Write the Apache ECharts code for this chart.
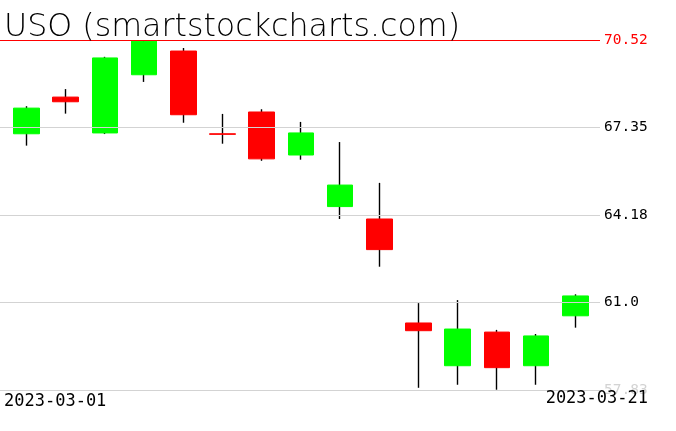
<!DOCTYPE html>
<html>
<head>
<meta charset="utf-8">
<script src="https://cdn.jsdelivr.net/npm/echarts@6/dist/echarts.min.js"></script>
<style>html,body{margin:0;padding:0;background:#fff;}#c{width:676px;height:431px;}</style>
</head>
<body>
<div id="c"></div>
<script>
const titleText = 'USO (smartstockcharts.com)';
const dates = ['2023-03-01','2023-03-02','2023-03-03','2023-03-06','2023-03-07','2023-03-08','2023-03-09','2023-03-10','2023-03-13','2023-03-14','2023-03-15','2023-03-16','2023-03-17','2023-03-20','2023-03-21'];
const opens  = [67.12, 68.45, 67.15, 69.26, 70.12, 67.12, 67.91, 66.35, 64.48, 64.03, 60.26, 58.71, 59.93, 58.71, 60.52];
const closes = [68.05, 68.28, 69.87, 70.48, 67.81, 67.10, 66.21, 67.15, 65.26, 62.92, 59.98, 60.04, 58.64, 59.79, 61.24];
const lows   = [66.69, 67.85, 67.11, 69.00, 67.52, 66.76, 66.14, 66.18, 64.03, 62.30, 57.91, 58.02, 57.84, 58.02, 60.09];
const highs  = [68.12, 68.74, 69.91, 70.52, 70.23, 67.84, 68.01, 67.55, 66.82, 65.34, 60.98, 61.09, 60.01, 59.86, 61.30];
const tickValues = [57.83, 61.0, 64.18, 67.35, 70.52];
const tickLabels = ['57.83', '61.0', '64.18', '67.35', '70.52'];
const tickColors = ['#d3d3d3', '#000000', '#000000', '#000000', '#ff0000'];
const lineColors = ['#d3d3d3', '#d3d3d3', '#d3d3d3', '#d3d3d3', '#ff0000'];

const yMin = tickValues[0], yMax = tickValues[tickValues.length - 1];
const MONO = 'DejaVu Sans Mono';

const wickData = dates.map((d, i) => [opens[i], closes[i], lows[i], highs[i]]);
const bodyData = dates.map((d, i) => [opens[i], closes[i], Math.min(opens[i], closes[i]), Math.max(opens[i], closes[i])]);

const chart = echarts.init(document.getElementById('c'), null, {renderer: 'canvas'});
chart.setOption({
  animation: false,
  backgroundColor: '#ffffff',
  grid: [
    {left: 0, top: 40, width: 600, height: 350},
    {left: 6.9, top: 40, width: 588, height: 350}
  ],
  xAxis: [
    {gridIndex: 0, type: 'value', min: 0, max: 1, show: false},
    {gridIndex: 1, type: 'category', data: dates, boundaryGap: true, show: false}
  ],
  yAxis: [
    {gridIndex: 0, type: 'value', min: yMin, max: yMax, show: false, splitLine: {show: false}},
    {gridIndex: 1, type: 'value', min: yMin, max: yMax, show: false, splitLine: {show: false}}
  ],
  series: [
    {
      type: 'line', xAxisIndex: 0, yAxisIndex: 0, data: [], silent: true,
      markLine: {
        silent: true, symbol: 'none', animation: false,
        data: tickValues.map((v, i) => ({
          yAxis: v,
          lineStyle: {color: lineColors[i], width: 1, type: 'solid'},
          label: {
            show: true, position: 'end', distance: 4, formatter: tickLabels[i],
            color: tickColors[i], fontFamily: MONO, fontSize: 14.5
          }
        }))
      }
    },
    {
      type: 'candlestick', xAxisIndex: 1, yAxisIndex: 1, data: wickData, barWidth: 1, z: 2,
      itemStyle: {color: '#000', color0: '#000', borderColor: '#000', borderColor0: '#000', borderWidth: 1.4}
    },
    {
      type: 'candlestick', xAxisIndex: 1, yAxisIndex: 1, data: bodyData, barWidth: 26, z: 3,
      itemStyle: {color: '#00ff00', color0: '#ff0000', borderColor: '#00ff00', borderColor0: '#ff0000', borderWidth: 1}
    }
  ],
  graphic: [
    {type: 'text', left: 4, top: 12, z: 100, style: {text: titleText, font: '200 31.7px "DejaVu Sans"', fill: '#000'}},
    {type: 'text', left: 4, top: 393, z: 100, style: {text: dates[0], font: '17px "' + MONO + '"', fill: '#000'}},
    {type: 'text', right: 28, top: 390, z: 100, style: {text: dates[dates.length - 1], font: '17px "' + MONO + '"', fill: '#000'}}
  ]
});
</script>
</body>
</html>
